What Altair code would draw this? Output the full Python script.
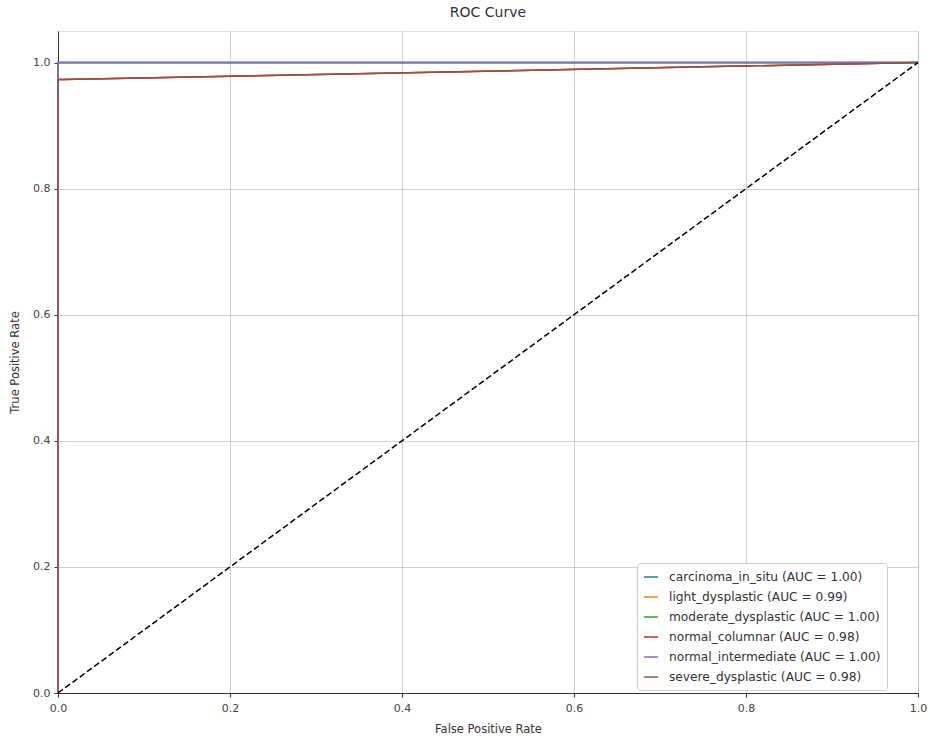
import altair as alt
import pandas as pd

classes = [
    "carcinoma_in_situ (AUC = 1.00)",
    "light_dysplastic (AUC = 0.99)",
    "moderate_dysplastic (AUC = 1.00)",
    "normal_columnar (AUC = 0.98)",
    "normal_intermediate (AUC = 1.00)",
    "severe_dysplastic (AUC = 0.98)",
]
colors = ["#1f77b4", "#ff7f0e", "#2ca02c", "#d62728", "#9467bd", "#8c564b"]

fpr_list = [
    [0.0, 0.0, 1.0],
    [0.0, 0.0, 0.006, 1.0],
    [0.0, 0.0, 1.0],
    [0.0, 0.0, 0.006, 1.0],
    [0.0, 0.0, 1.0],
    [0.0, 0.0, 0.006, 1.0],
]
tpr_list = [
    [0.0, 1.0, 1.0],
    [0.0, 0.973, 0.973, 1.0],
    [0.0, 1.0, 1.0],
    [0.0, 0.973, 0.973, 1.0],
    [0.0, 1.0, 1.0],
    [0.0, 0.973, 0.973, 1.0],
]

diag_x = [0.0, 1.0]
diag_y = [0.0, 1.0]

rows = []
for ci, (c, fx, ty) in enumerate(zip(classes, fpr_list, tpr_list)):
    for i, (a, b) in enumerate(zip(fx, ty)):
        rows.append({"cls": c, "fpr": a, "tpr": b, "ord": i, "k": ci})
df = pd.DataFrame(rows)
ddf = pd.DataFrame({"fpr": diag_x, "tpr": diag_y})

font = "DejaVu Sans"

xscale = alt.Scale(domain=[0, 1], nice=False, zero=False)
yscale = alt.Scale(domain=[0, 1.05], nice=False, zero=False)

common = dict(values=[0, 0.2, 0.4, 0.6, 0.8, 1.0], format=".1f",
              grid=True, gridColor="#b0b0b0", gridOpacity=0.6, domainColor="#333", tickColor="#333",
              labelFontSize=11, titleFontSize=11.5, labelColor="#444", titleColor="#333",
              titleFontWeight="normal", labelFont=font, titleFont=font, tickSize=4,
              labelFlush=False, labelLimit=300)
xaxis = alt.Axis(title="False Positive Rate", titlePadding=10, labelPadding=5, **common)
yaxis = alt.Axis(title="True Positive Rate", titlePadding=12, labelPadding=4, **common)

lines = alt.Chart(df).mark_line(strokeWidth=1.5).encode(
    x=alt.X("fpr:Q", scale=xscale, axis=xaxis),
    y=alt.Y("tpr:Q", scale=yscale, axis=yaxis),
    color=alt.Color("cls:N", scale=alt.Scale(domain=classes, range=colors),
                    legend=alt.Legend(title=None, orient="none", legendX=579, legendY=532,
                                      symbolType="stroke", symbolStrokeWidth=1.5, symbolSize=200,
                                      labelFontSize=12.2, labelFont=font, labelColor="#333",
                                      labelLimit=400, labelOffset=10,
                                      strokeColor="#cccccc", fillColor="white", padding=6,
                                      rowPadding=5, cornerRadius=3)),
    detail="k:N",
    order="ord:Q",
)

diag = alt.Chart(ddf).mark_line(color="black", strokeDash=[6, 3], strokeWidth=1.5).encode(
    x=alt.X("fpr:Q", scale=xscale),
    y=alt.Y("tpr:Q", scale=yscale),
)

chart = alt.layer(lines, diag).properties(
    width=860, height=662,
    title=alt.TitleParams("ROC Curve", fontSize=14, fontWeight="normal", font=font, color="#333", offset=11),
    autosize=alt.AutoSizeParams(type="none"),
    padding={"left": 58, "top": 31, "right": 12, "bottom": 45},
).configure_view(stroke="#333", strokeWidth=1).configure(background="white")

chart.save("out.html", embed_options={"renderer": "svg", "actions": False})
